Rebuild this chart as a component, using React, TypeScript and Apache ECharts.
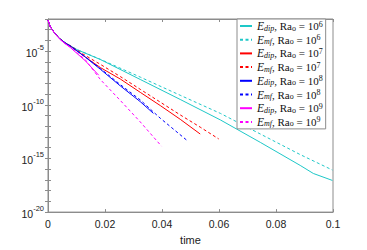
import React, { useEffect, useRef } from "react";
import * as echarts from "echarts";

// time values and log10 of energy
const tCyanSolid = [0, 0.0008, 0.002, 0.0032, 0.0043, 0.0061, 0.0102, 0.0184, 0.0324, 0.0464, 0.0605, 0.0745, 0.0885, 0.0931, 0.0998];
const eCyanSolid = [-2.1, -2.73, -3.19, -3.58, -3.88, -4.22, -4.86, -5.78, -7.64, -9.5, -11.41, -13.5, -15.65, -16.4, -17.05];
const tCyanDash = [0, 0.0008, 0.002, 0.0032, 0.0043, 0.0061, 0.0102, 0.0184, 0.0324, 0.0464, 0.0605, 0.0745, 0.0885, 0.0998];
const eCyanDash = [-2.1, -2.73, -3.19, -3.58, -3.88, -4.22, -4.86, -5.76, -7.42, -9.11, -10.8, -12.72, -14.64, -16.08];
const tRedSolid = [0, 0.0008, 0.002, 0.0032, 0.0043, 0.0061, 0.0078, 0.0131, 0.0184, 0.0254, 0.0324, 0.0394, 0.0464, 0.0534];
const eRedSolid = [-2.1, -2.73, -3.19, -3.58, -3.88, -4.25, -4.5, -5.55, -6.53, -7.6, -8.84, -10.07, -11.35, -12.72];
const tRedDash = [0, 0.0008, 0.002, 0.0032, 0.0043, 0.0061, 0.0078, 0.0131, 0.0184, 0.0254, 0.0324, 0.0394, 0.0464, 0.0534, 0.0599];
const eRedDash = [-2.1, -2.73, -3.19, -3.58, -3.88, -4.25, -4.5, -5.4, -6.23, -7.37, -8.56, -9.75, -10.94, -12.08, -13.18];
const tBlueSolid = [0, 0.0008, 0.002, 0.0032, 0.0043, 0.0061, 0.0078, 0.0131, 0.0184, 0.0254, 0.0324, 0.037];
const eBlueSolid = [-2.1, -2.73, -3.19, -3.58, -3.88, -4.25, -4.52, -5.55, -6.69, -8.24, -9.71, -10.8];
const tBlueDash = [0, 0.0008, 0.002, 0.0032, 0.0043, 0.0061, 0.0078, 0.0131, 0.0184, 0.0254, 0.0324, 0.0394, 0.0491];
const eBlueDash = [-2.1, -2.73, -3.19, -3.58, -3.88, -4.25, -4.52, -5.52, -6.62, -8.12, -9.55, -11.25, -13.39];
const tMagSolid = [0, 0.0008, 0.002, 0.0032, 0.0043, 0.0061, 0.0078, 0.0131, 0.0178];
const eMagSolid = [-2.1, -2.73, -3.2, -3.6, -3.92, -4.32, -4.65, -5.9, -7.24];
const tMagDash = [0, 0.0008, 0.002, 0.0032, 0.0043, 0.0061, 0.0078, 0.0131, 0.0184, 0.0254, 0.0324, 0.0398];
const eMagDash = [-2.1, -2.73, -3.2, -3.6, -3.92, -4.32, -4.62, -5.8, -7.65, -9.6, -11.6, -13.85];

const xTicks = [0, 0.02, 0.04, 0.06, 0.08, 0.1];
const legendKinds = ["dip", "mf", "dip", "mf", "dip", "mf", "dip", "mf"];
const legendRa = ["6", "6", "7", "7", "8", "8", "9", "9"];
const seriesNames = ["dip6", "mf6", "dip7", "mf7", "dip8", "mf8", "dip9", "mf9"];
const colors = ["#1ec8c8", "#1ec8c8", "#ff0000", "#ff0000", "#0000ff", "#0000ff", "#ff00ff", "#ff00ff"];
const tData = [tCyanSolid, tCyanDash, tRedSolid, tRedDash, tBlueSolid, tBlueDash, tMagSolid, tMagDash];
const eData = [eCyanSolid, eCyanDash, eRedSolid, eRedDash, eBlueSolid, eBlueDash, eMagSolid, eMagDash];

export default function App() {
  const ref = useRef<HTMLDivElement>(null);
  useEffect(() => {
    if (!ref.current) return;
    const chart = echarts.init(ref.current, null, { renderer: "svg" });
    const series = seriesNames.map((name, i) => ({
      name,
      type: "line",
      symbol: "none",
      smooth: false,
      xAxisIndex: 0,
      yAxisIndex: 0,
      data: tData[i].map((t, j) => [t, Math.pow(10, eData[i][j])]),
      lineStyle: {
        color: colors[i],
        width: 1,
        type: i % 2 === 1 ? [3, 2.5] : "solid",
      },
      itemStyle: { color: colors[i] },
    }));
    const axisLineStyle = { color: "#8c8c8c", width: 1 };
    const tickStyle = { color: "#8c8c8c", width: 1 };
    chart.setOption({
      animation: false,
      backgroundColor: "#ffffff",
      grid: {
        left: 48,
        right: 34,
        top: 19,
        bottom: 33,
        show: true,
        borderColor: "#8c8c8c",
        borderWidth: 1,
        backgroundColor: "transparent",
      },
      xAxis: [
        {
          type: "value",
          min: 0,
          max: 0.1,
          interval: 0.02,
          name: "time",
          nameLocation: "middle",
          nameGap: 19,
          nameTextStyle: { fontFamily: "Liberation Sans", fontSize: 11, color: "#222" },
          axisLine: { show: true, lineStyle: axisLineStyle },
          axisTick: { show: true, inside: true, length: 3, lineStyle: tickStyle },
          splitLine: { show: false },
          axisLabel: {
            fontFamily: "Liberation Sans",
            fontSize: 10.5,
            color: "#222",
            margin: 6,
            formatter: (v: number) => {
              const k = xTicks.findIndex((x) => Math.abs(x - v) < 1e-9);
              return k >= 0 ? String(xTicks[k]) : "";
            },
          },
        },
        {
          type: "value",
          position: "top",
          min: 0,
          max: 0.1,
          interval: 0.02,
          axisLine: { show: true, lineStyle: axisLineStyle },
          axisTick: { show: true, inside: true, length: 3, lineStyle: tickStyle },
          splitLine: { show: false },
          axisLabel: { show: false },
        },
      ],
      yAxis: [
        {
          type: "log",
          logBase: 10,
          min: 1e-20,
          max: 1e-2,
          interval: 1,
          axisLine: { show: true, lineStyle: axisLineStyle },
          axisTick: { show: true, inside: true, length: 3, lineStyle: tickStyle },
          splitLine: { show: false },
          minorTick: { show: false },
          axisLabel: {
            margin: 4,
            formatter: (v: number) => {
              const ex = Math.round(Math.log10(v));
              if (ex % 5 !== 0) return "";
              return "{b|10}{s|" + ex + "}";
            },
            rich: {
              b: { fontFamily: "Liberation Sans", fontSize: 10.5, color: "#222", lineHeight: 15, verticalAlign: "bottom" },
              s: { fontFamily: "Liberation Sans", fontSize: 7.5, color: "#222", lineHeight: 15, verticalAlign: "top" },
            },
          },
        },
        {
          type: "log",
          logBase: 10,
          position: "right",
          min: 1e-20,
          max: 1e-2,
          interval: 1,
          axisLine: { show: true, lineStyle: axisLineStyle },
          axisTick: { show: true, inside: true, length: 3, lineStyle: tickStyle },
          splitLine: { show: false },
          axisLabel: { show: false },
        },
      ],
      legend: {
        data: seriesNames,
        orient: "vertical",
        left: 237,
        top: 19,
        padding: [1, 3, 1, 2],
        itemWidth: 12,
        itemHeight: 8,
        itemGap: 1.7,
        backgroundColor: "#ffffff",
        borderColor: "#8c8c8c",
        borderWidth: 1,
        borderRadius: 0,
        itemStyle: { opacity: 0 },
        formatter: (name: string) => {
          const k = seriesNames.indexOf(name);
          return "{i|E}{sub|" + legendKinds[k] + "}{r|, Ra}{subr|o}{r| = 10}{sup|" + legendRa[k] + "}";
        },
        textStyle: {
          fontFamily: "Liberation Serif",
          fontSize: 11,
          color: "#111",
          lineHeight: 12,
          rich: {
            i: { fontFamily: "Liberation Serif", fontStyle: "italic", fontSize: 11.5, color: "#111", lineHeight: 12 },
            sub: { fontFamily: "Liberation Serif", fontStyle: "italic", fontSize: 8, color: "#111", lineHeight: 12, verticalAlign: "bottom" },
            r: { fontFamily: "Liberation Serif", fontSize: 11, color: "#111", lineHeight: 12 },
            subr: { fontFamily: "Liberation Serif", fontSize: 8, color: "#111", lineHeight: 12, verticalAlign: "bottom" },
            sup: { fontFamily: "Liberation Serif", fontSize: 8, color: "#111", lineHeight: 12, verticalAlign: "top" },
          },
        },
      },
      series,
    });
    return () => chart.dispose();
  }, []);
  return <div ref={ref} style={{ width: 367, height: 250, position: "absolute", left: 0, top: 0 }} />;
}
